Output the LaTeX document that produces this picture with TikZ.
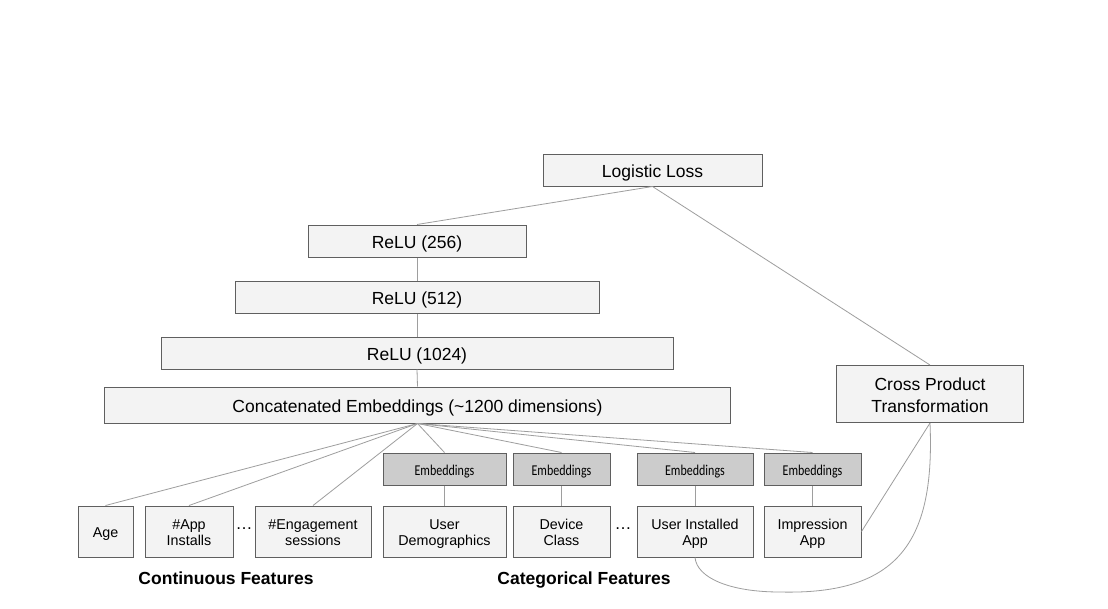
\documentclass[tikz,border=0pt]{standalone}
\usepackage{fontspec}
\setmainfont{Liberation Sans}
\newfontfamily\embfont[FakeStretch=0.8]{Carlito}
\definecolor{boxfill}{HTML}{F3F3F3}
\definecolor{boxline}{HTML}{5F5F5F}
\definecolor{embfill}{HTML}{CCCCCC}
\definecolor{conn}{HTML}{9E9E9E}
\begin{document}
\begin{tikzpicture}[x=1pt,y=-1pt,
  box/.style={draw=boxline, fill=boxfill, line width=1pt, inner sep=0pt, align=center,
    font=\fontsize{17.5}{22.5}\selectfont, text depth=0pt, text height=14pt},
  featbox/.style={box, minimum height=51pt, font=\fontsize{14.3}{16.5}\selectfont, text height=28pt},
  onefeat/.style={featbox, text height=12.4pt},
  embbox/.style={draw=boxline, fill=embfill, line width=1pt, inner sep=0pt, minimum height=32pt,
    font=\embfont\fontsize{15}{17}\selectfont, text depth=0pt, text height=12pt},
  wire/.style={draw=conn, line width=0.8pt},
  grouplabel/.style={font=\bfseries\fontsize{17.5}{20}\selectfont, text depth=0pt, text height=12.5pt, inner sep=0pt},
  dotlabel/.style={font=\fontsize{17}{20}\selectfont, text depth=0pt, text height=0pt, inner sep=0pt}
]
\useasboundingbox (0,0) rectangle (1108,608);
\fill[white] (0,0) rectangle (1108,608);

% top stack
\node[box, minimum width=219pt, minimum height=32pt] (loss) at (652.5,170) {Logistic Loss};
\node[box, minimum width=218pt, minimum height=32pt] (r256) at (417,241) {ReLU (256)};
\node[box, minimum width=364pt, minimum height=32pt] (r512) at (417,297) {ReLU (512)};
\node[box, minimum width=512pt, minimum height=32pt] (r1024) at (417,353) {ReLU (1024)};
\node[box, minimum width=626pt, minimum height=36pt] (concat) at (417.5,405) {Concatenated Embeddings (\textasciitilde1200 dimensions)};
\node[box, minimum width=187pt, minimum height=57pt, text height=37.4pt] (cross) at (930,394) {Cross Product\\Transformation};

% continuous features
\node[onefeat, minimum width=55pt] (age) at (105.5,531.5) {Age};
\node[featbox, minimum width=88pt] (apps) at (189,531.5) {\#App\\Installs};
\node[featbox, minimum width=116pt] (eng) at (313,531.5) {\#Engagement\\sessions};

% categorical features
\node[featbox, minimum width=123pt] (demo) at (444.5,531.5) {User\\Demographics};
\node[featbox, minimum width=97pt] (dev) at (561.5,531.5) {Device\\Class};
\node[featbox, minimum width=116pt] (uia) at (695,531.5) {User Installed\\App};
\node[featbox, minimum width=97pt] (imp) at (812.5,531.5) {Impression\\App};

\node[embbox, minimum width=123pt] (e1) at (444.5,469) {Embeddings};
\node[embbox, minimum width=97pt] (e2) at (561.5,469) {Embeddings};
\node[embbox, minimum width=116pt] (e3) at (695,469) {Embeddings};
\node[embbox, minimum width=97pt] (e4) at (812.5,469) {Embeddings};

\node[dotlabel] (dots1) at (244,529.5) {\dots};
\node[dotlabel] (dots2) at (623,529.5) {\dots};

\node[grouplabel] (contlbl) at (226,578) {Continuous Features};
\node[grouplabel] (catlbl) at (584,578) {Categorical Features};

% connectors
\draw[wire] (loss.south) -- (r256.north);
\draw[wire] (loss.south) -- (cross.north);
\draw[wire] (r256.south) -- (r512.north);
\draw[wire] (r512.south) -- (r1024.north);
\draw[wire] (r1024.south) -- (concat.north);
\foreach \t in {age,apps,eng,e1,e2,e3,e4}{
  \draw[wire] (concat.south) -- (\t.north);
}
\draw[wire] (e1.south) -- (demo.north);
\draw[wire] (e2.south) -- (dev.north);
\draw[wire] (e3.south) -- (uia.north);
\draw[wire] (e4.south) -- (imp.north);
\draw[wire] (cross.south) -- (imp.east);
\coordinate (curvelow) at (780,592);
\draw[wire] (uia.south) .. controls (697,578) and (730,592) .. (curvelow)
  .. controls (900,595) and (935,540) .. (cross.south);
\end{tikzpicture}
\end{document}
